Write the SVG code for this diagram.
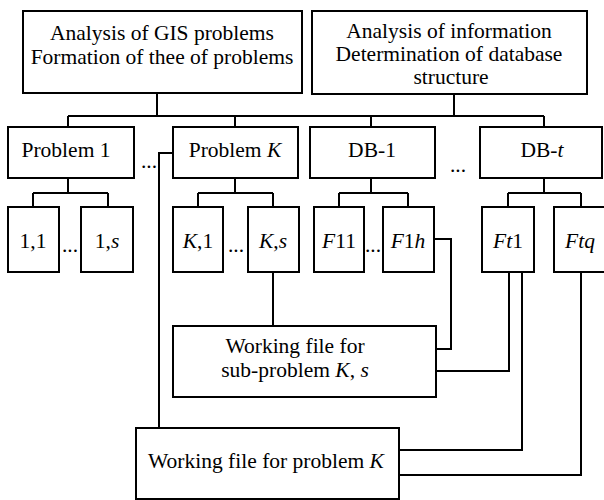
<svg xmlns="http://www.w3.org/2000/svg" width="604" height="500" viewBox="0 0 604 500">
<rect x="0" y="0" width="604" height="500" fill="#fff"/>
<g id="connectors" fill="none" stroke="#000" stroke-width="2">
<path d="M157,93V116M454,94V116M68,116H544M68,116V127M235,116V127M371,116V127M544,116V127"/>
<path d="M68,178V193M33,193H108M33,193V207M108,193V207"/>
<path d="M235,178V193M198,193H273M198,193V207M273,193V207"/>
<path d="M371,178V193M339,193H408M339,193V207M408,193V207"/>
<path d="M544,178V193M508,193H581M508,193V207M581,193V207"/>
<path d="M173,153H159V428"/>
<path d="M273,272V326"/>
<path d="M434,239H451V349H436"/>
<path d="M509,272V371H436"/>
<path d="M522,272V450H399"/>
<path d="M581,272V475H399"/>
</g>
<g id="top-left"><rect x="23" y="11" width="279" height="82" fill="#fff" stroke="#000" stroke-width="2"/><text font-family="Liberation Serif" font-size="21.5" text-anchor="middle" x="162" y="40">Analysis of GIS problems</text><text font-family="Liberation Serif" font-size="21.5" text-anchor="middle" x="162" y="64">Formation of thee of problems</text></g>
<g id="top-right"><rect x="312" y="11" width="275" height="83" fill="#fff" stroke="#000" stroke-width="2"/><text font-family="Liberation Serif" font-size="21.5" text-anchor="middle" x="449" y="38">Analysis of information</text><text font-family="Liberation Serif" font-size="21.5" text-anchor="middle" x="449" y="61">Determination of database</text><text font-family="Liberation Serif" font-size="21.5" text-anchor="middle" x="451" y="84">structure</text></g>
<g id="problem1"><rect x="8" y="127" width="126" height="51" fill="#fff" stroke="#000" stroke-width="2"/><text font-family="Liberation Serif" font-size="21.5" text-anchor="middle" x="66" y="157">Problem 1</text></g>
<g id="problemK"><rect x="173" y="127" width="125" height="51" fill="#fff" stroke="#000" stroke-width="2"/><text font-family="Liberation Serif" font-size="21.5" text-anchor="middle" x="235" y="157">Problem <tspan font-style="italic">K</tspan></text></g>
<g id="db1"><rect x="310" y="127" width="125" height="51" fill="#fff" stroke="#000" stroke-width="2"/><text font-family="Liberation Serif" font-size="21.5" text-anchor="middle" x="372" y="157">DB-1</text></g>
<g id="dbt"><rect x="480" y="127" width="122" height="51" fill="#fff" stroke="#000" stroke-width="2"/><text font-family="Liberation Serif" font-size="21.5" text-anchor="middle" x="542" y="157">DB-<tspan font-style="italic">t</tspan></text></g>
<text font-family="Liberation Serif" font-size="21.5" text-anchor="middle" x="149" y="168">...</text>
<text font-family="Liberation Serif" font-size="21.5" text-anchor="middle" x="458" y="172">...</text>
<g id="n11"><rect x="8" y="207" width="51" height="65" fill="#fff" stroke="#000" stroke-width="2"/><text font-family="Liberation Serif" font-size="21.5" text-anchor="middle" x="33" y="248">1,1</text></g>
<g id="n1s"><rect x="81" y="207" width="52" height="65" fill="#fff" stroke="#000" stroke-width="2"/><text font-family="Liberation Serif" font-size="21.5" text-anchor="middle" x="107" y="248">1,<tspan font-style="italic">s</tspan></text></g>
<text font-family="Liberation Serif" font-size="21.5" text-anchor="middle" x="70" y="252">...</text>
<g id="nK1"><rect x="173" y="207" width="50" height="65" fill="#fff" stroke="#000" stroke-width="2"/><text font-family="Liberation Serif" font-size="21.5" text-anchor="middle" x="198" y="248"><tspan font-style="italic">K</tspan>,1</text></g>
<g id="nKs"><rect x="248" y="207" width="51" height="65" fill="#fff" stroke="#000" stroke-width="2"/><text font-family="Liberation Serif" font-size="21.5" text-anchor="middle" x="273" y="248"><tspan font-style="italic">K</tspan>,<tspan font-style="italic">s</tspan></text></g>
<text font-family="Liberation Serif" font-size="21.5" text-anchor="middle" x="236" y="252">...</text>
<g id="F11"><rect x="314" y="207" width="50" height="65" fill="#fff" stroke="#000" stroke-width="2"/><text font-family="Liberation Serif" font-size="21.5" text-anchor="middle" x="339" y="248"><tspan font-style="italic">F</tspan>11</text></g>
<g id="F1h"><rect x="383" y="207" width="51" height="65" fill="#fff" stroke="#000" stroke-width="2"/><text font-family="Liberation Serif" font-size="21.5" text-anchor="middle" x="408" y="248"><tspan font-style="italic">F</tspan>1<tspan font-style="italic">h</tspan></text></g>
<text font-family="Liberation Serif" font-size="21.5" text-anchor="middle" x="373" y="252">...</text>
<g id="Ft1"><rect x="482" y="207" width="52" height="65" fill="#fff" stroke="#000" stroke-width="2"/><text font-family="Liberation Serif" font-size="21.5" text-anchor="middle" x="508" y="248"><tspan font-style="italic">Ft</tspan>1</text></g>
<g id="Ftq"><rect x="554" y="207" width="52" height="65" fill="#fff" stroke="#000" stroke-width="2"/><text font-family="Liberation Serif" font-size="21.5" text-anchor="middle" font-style="italic" x="580" y="248">Ftq</text></g>
<g id="subfile"><rect x="173" y="326" width="263" height="71" fill="#fff" stroke="#000" stroke-width="2"/><text font-family="Liberation Serif" font-size="21.5" text-anchor="middle" x="295" y="353">Working file for</text><text font-family="Liberation Serif" font-size="21.5" text-anchor="middle" x="295" y="377">sub-problem <tspan font-style="italic">K</tspan>, <tspan font-style="italic">s</tspan></text></g>
<g id="probfile"><rect x="136" y="428" width="263" height="71" fill="#fff" stroke="#000" stroke-width="2"/><text font-family="Liberation Serif" font-size="21.5" text-anchor="middle" x="266" y="468">Working file for problem <tspan font-style="italic">K</tspan></text></g>
</svg>
